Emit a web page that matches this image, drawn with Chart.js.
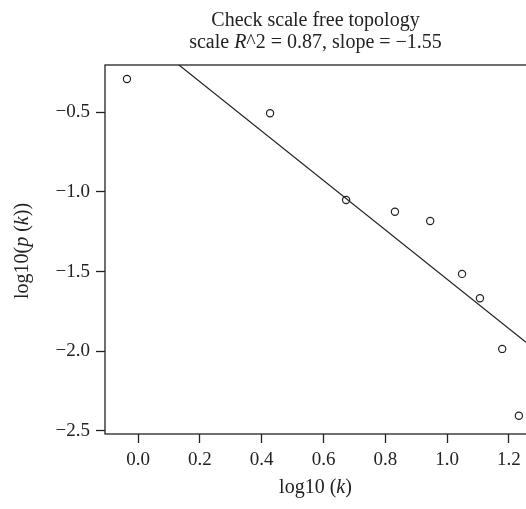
<!DOCTYPE html>
<html>
<head>
<meta charset="utf-8">
<script src="https://cdn.jsdelivr.net/npm/chart.js@4.4.0/dist/chart.umd.min.js"></script>
<style>
  html, body { margin: 0; padding: 0; background: #fff; }
  canvas { display: block; }
</style>
</head>
<body>
<canvas id="sft" width="526" height="509"></canvas>
<script>
// log10(k) and log10(p(k)) per connectivity bin
const logK = [-0.036, 0.427, 0.673, 0.831, 0.945, 1.048, 1.106, 1.178, 1.232];
const logPk = [-0.291, -0.506, -1.050, -1.124, -1.182, -1.514, -1.667, -1.985, -2.404];

const xTicks = [0.0, 0.2, 0.4, 0.6, 0.8, 1.0, 1.2];
const yTicks = [-2.5, -2.0, -1.5, -1.0, -0.5];
const xRange = [-0.107, 1.255];
const yRange = [-2.519, -0.203];

// linear fit of log10(p(k)) on log10(k)
const rSquared = 0.87;
const fitSlope = -1.55;
const fitIntercept = 0.002;

const serif = "'Liberation Serif', 'DejaVu Serif', serif";
const ink = '#222';
const fmt = v => v.toFixed(1).replace('-', '\u2212');

// text with italic pieces, centred on x
function drawRich(ctx, parts, x, y, size) {
  let w = 0;
  parts.forEach(p => {
    ctx.font = (p.i ? 'italic ' : '') + size + 'px ' + serif;
    w += ctx.measureText(p.t).width;
  });
  let cx = x - w / 2;
  parts.forEach(p => {
    ctx.font = (p.i ? 'italic ' : '') + size + 'px ' + serif;
    ctx.fillText(p.t, cx, y);
    cx += ctx.measureText(p.t).width;
  });
}

const frameAndLabels = {
  id: 'frameAndLabels',
  afterDraw(chart) {
    const { ctx, chartArea: a } = chart;
    ctx.save();
    ctx.strokeStyle = ink;
    ctx.lineWidth = 1.3;
    ctx.strokeRect(a.left, a.top, a.right - a.left + 10, a.bottom - a.top);

    ctx.fillStyle = ink;
    ctx.textAlign = 'left';
    ctx.textBaseline = 'alphabetic';
    const cx = (a.left + a.right) / 2;
    drawRich(ctx, [{ t: 'Check scale free topology' }], cx, 26, 20);
    drawRich(ctx, [
      { t: 'scale ' }, { t: 'R', i: true },
      { t: '^2 = ' + rSquared.toFixed(2) + ', slope = ' + fitSlope.toFixed(2).replace('-', '\u2212') }
    ], cx, 48, 20);

    drawRich(ctx, [{ t: 'log10 (' }, { t: 'k', i: true }, { t: ')' }], cx, 493, 20);

    ctx.translate(28, 251);
    ctx.rotate(-Math.PI / 2);
    drawRich(ctx, [
      { t: 'log10(' }, { t: 'p', i: true }, { t: ' (' }, { t: 'k', i: true }, { t: '))' }
    ], 0, 0, 20);
    ctx.restore();
  }
};

const points = logK.map((x, i) => ({ x: x, y: logPk[i] }));
const fitLine = xRange.map(x => ({ x: x, y: fitIntercept + fitSlope * x }));

new Chart(document.getElementById('sft'), {
  type: 'scatter',
  data: {
    datasets: [
      {
        data: points,
        pointStyle: 'circle',
        pointRadius: 3.6,
        pointBorderWidth: 1.2,
        pointBorderColor: ink,
        pointBackgroundColor: 'rgba(0,0,0,0)'
      },
      {
        data: fitLine,
        showLine: true,
        pointRadius: 0,
        borderColor: ink,
        borderWidth: 1.2,
        clip: 0
      }
    ]
  },
  options: {
    responsive: false,
    animation: false,
    events: [],
    // plot box runs right up to the canvas edge
    layout: { autoPadding: false, padding: { top: 65, left: 0, right: 0, bottom: 0 } },
    plugins: { legend: { display: false }, title: { display: false }, tooltip: { enabled: false } },
    scales: {
      x: {
        type: 'linear',
        min: xRange[0],
        max: xRange[1],
        afterBuildTicks: s => { s.ticks = xTicks.map(v => ({ value: v })); },
        afterFit: s => { s.height = 75; s.paddingLeft = 0; s.paddingRight = 0; },
        border: { display: false },
        grid: { drawOnChartArea: false, tickLength: 9, tickWidth: 1.3, tickColor: ink },
        ticks: { color: ink, padding: 6, font: { family: serif, size: 19 }, callback: v => fmt(v) }
      },
      y: {
        type: 'linear',
        min: yRange[0],
        max: yRange[1],
        afterBuildTicks: s => { s.ticks = yTicks.map(v => ({ value: v })); },
        afterFit: s => { s.width = 105; s.paddingTop = 0; s.paddingBottom = 0; },
        border: { display: false },
        grid: { drawOnChartArea: false, tickLength: 9, tickWidth: 1.3, tickColor: ink },
        ticks: { color: ink, padding: 6, font: { family: serif, size: 19 }, callback: v => fmt(v) }
      }
    }
  },
  plugins: [frameAndLabels]
});
</script>
</body>
</html>
